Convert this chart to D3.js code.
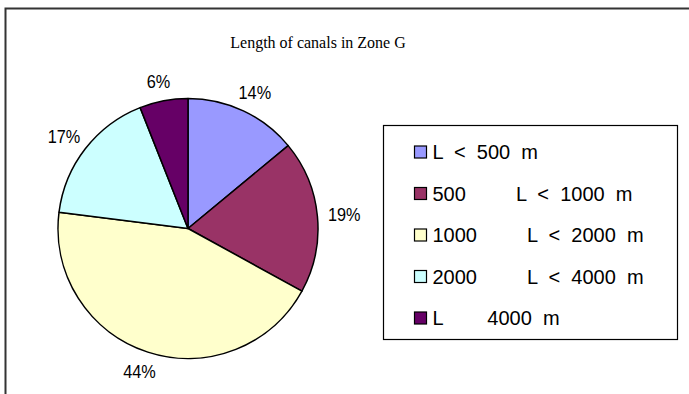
<!DOCTYPE html>
<html>
<head>
<meta charset="utf-8">
<script src="https://cdn.jsdelivr.net/npm/d3@7"></script>
<style>
  html, body { margin: 0; padding: 0; background: #fff; }
  svg { display: block; }
  .legend text { white-space: pre; }
</style>
</head>
<body>
<svg id="chart" width="689" height="394"></svg>
<script>
// Canal length classes and their share of total canal length (%)
const categories = [
  "L  <  500  m",
  "500         L  <  1000  m",
  "1000         L  <  2000  m",
  "2000         L  <  4000  m",
  "L        4000  m"
];
const shares = [14, 19, 44, 17, 6];
const colors = ["#9999FF", "#993366", "#FFFFCC", "#CCFFFF", "#660066"];
const title = "Length of canals in Zone G";

const svg = d3.select("#chart");

// Outer chart frame (runs off the right and bottom edges)
svg.append("path")
  .attr("d", "M5.5,394 L5.5,8.5 L689,8.5")
  .attr("fill", "none")
  .attr("stroke", "#333")
  .attr("stroke-width", 2);

// Title
svg.append("text")
  .attr("x", 318)
  .attr("y", 48)
  .attr("text-anchor", "middle")
  .attr("font-family", "'Liberation Serif', 'Times New Roman', serif")
  .attr("font-size", 16)
  .attr("fill", "#000")
  .text(title);

// Pie
const cx = 188, cy = 228.5, radius = 130;
const data = categories.map((c, i) => ({ label: c, value: shares[i], color: colors[i] }));

const pie = d3.pie().value(d => d.value).sort(null);
const arc = d3.arc().innerRadius(0).outerRadius(radius);
const arcs = pie(data);

const g = svg.append("g").attr("transform", `translate(${cx},${cy})`);

g.selectAll("path.slice")
  .data(arcs)
  .join("path")
  .attr("class", "slice")
  .attr("d", arc)
  .attr("fill", d => d.data.color)
  .attr("stroke", "#000")
  .attr("stroke-width", 1.5)
  .attr("stroke-linejoin", "round");

// Percentage labels outside the slices, anchored by their box edge
const labelR = radius + 12;
const labelW = 30, labelH = 16;
g.selectAll("g.pct")
  .data(arcs)
  .join("g")
  .attr("class", "pct")
  .attr("transform", d => {
    const a = (d.startAngle + d.endAngle) / 2;
    const sx = Math.sin(a), sy = -Math.cos(a);
    const x = labelR * sx + (labelW / 2) * sx;
    const y = labelR * sy + (labelH / 2) * sy;
    return `translate(${x},${y})`;
  })
  .append("text")
  .attr("text-anchor", "middle")
  .attr("dominant-baseline", "central")
  .attr("transform", "scale(0.88,1)")
  .attr("font-family", "'Liberation Sans', Arial, sans-serif")
  .attr("font-size", 18.5)
  .attr("fill", "#000")
  .text(d => d.data.value + "%");

// Legend
const legend = svg.append("g").attr("class", "legend");
legend.append("rect")
  .attr("x", 383.5)
  .attr("y", 125.5)
  .attr("width", 294)
  .attr("height", 214)
  .attr("fill", "#fff")
  .attr("stroke", "#000")
  .attr("stroke-width", 1.2);

const rowY = d3.scalePoint().domain(categories).range([152, 318]);

const rows = legend.selectAll("g.row")
  .data(data)
  .join("g")
  .attr("class", "row")
  .attr("transform", d => `translate(0,${rowY(d.label)})`);

rows.append("rect")
  .attr("x", 414.5)
  .attr("y", -6)
  .attr("width", 12)
  .attr("height", 12)
  .attr("fill", d => d.color)
  .attr("stroke", "#000")
  .attr("stroke-width", 1.2);

rows.append("text")
  .attr("x", 432.5)
  .attr("y", 0)
  .attr("dominant-baseline", "central")
  .attr("font-family", "'Liberation Sans', Arial, sans-serif")
  .attr("font-size", 20)
  .attr("fill", "#000")
  .text(d => d.label);
</script>
</body>
</html>
